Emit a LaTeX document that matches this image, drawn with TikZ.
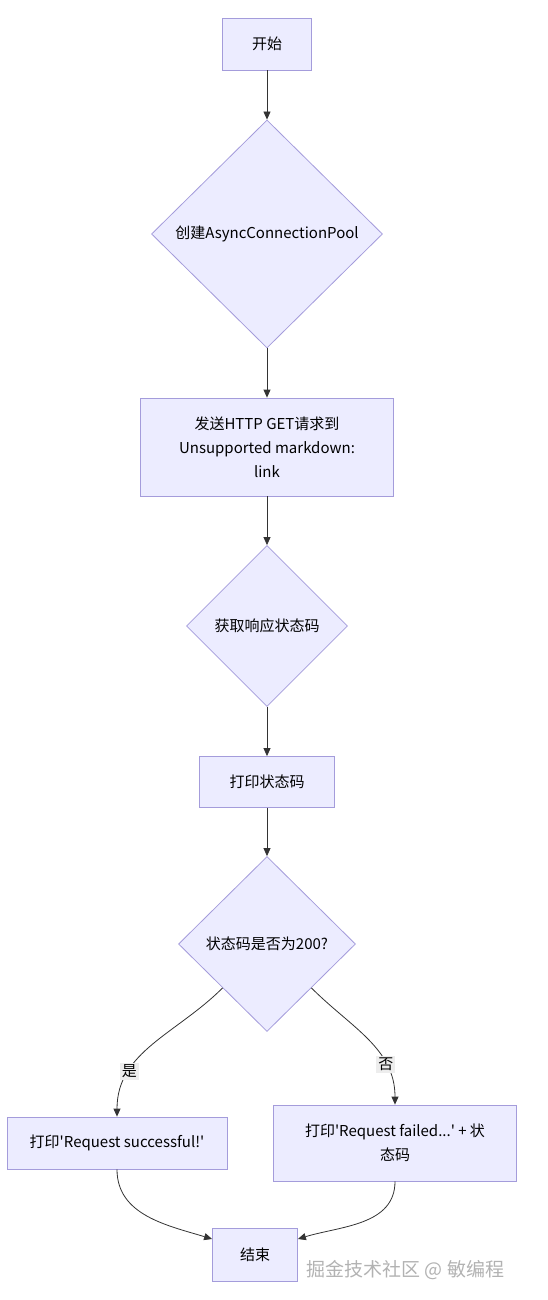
\documentclass[tikz,border=0pt]{standalone}
\usepackage{fontspec}
\setmainfont{Noto Sans CJK SC}
\usetikzlibrary{shapes.geometric,arrows.meta}
\definecolor{nodefill}{HTML}{ECECFF}
\definecolor{nodeline}{HTML}{A49CDB}
\definecolor{edgeline}{HTML}{333333}
\tikzset{
  box/.style={draw=nodeline, fill=nodefill, line width=0.8pt, inner sep=0pt,
    align=center, font=\fontsize{15}{24}\selectfont},
  decision/.style={diamond, aspect=1, draw=nodeline, fill=nodefill, line width=0.8pt,
    inner sep=0pt, align=center, font=\fontsize{15}{24}\selectfont},
  arr/.style={draw=edgeline, line width=0.8pt, -{Triangle[length=8pt,width=7pt]}},
  lbl/.style={fill=gray!14, inner sep=2pt, font=\fontsize{15}{18}\selectfont}
}
\begin{document}
\begin{tikzpicture}[x=1pt,y=1pt]
			\useasboundingbox (0,0) rectangle (547,-1300);
			% nodes
			\node[box, minimum width=89pt, minimum height=52pt] (start) at (267,-44) {开始};
			\node[decision, minimum width=231pt, minimum height=228pt] (pool) at (267,-234) {创建AsyncConnectionPool};
			\node[box, minimum width=253pt, minimum height=98pt] (request) at (267,-447) {发送HTTP GET请求到\\Unsupported markdown:\\link};
			\node[decision, minimum width=161pt, minimum height=161pt] (status) at (267,-626) {获取响应状态码};
			\node[box, minimum width=135pt, minimum height=51pt] (print) at (267,-782) {打印状态码};
			\node[decision, minimum width=177pt, minimum height=175pt] (check) at (267,-944) {状态码是否为200?};
			\node[box, minimum width=220pt, minimum height=52pt] (success) at (117,-1143) {打印\textquotesingle Request successful!\textquotesingle};
			\node[box, minimum width=243pt, minimum height=76pt] (failed) at (395,-1143) {打印\textquotesingle Request failed...\textquotesingle\ + 状\\态码};
			\node[box, minimum width=85pt, minimum height=53pt] (finish) at (255,-1255) {结束};
			% edges
			\draw[arr] (start) -- (pool);
			\draw[arr] (pool) -- (request);
			\draw[arr] (request) -- (status);
			\draw[arr] (status) -- (print);
			\draw[arr] (print) -- (check);
			\draw[arr] (check.south west) to[out=225, in=90] node[lbl, pos=0.72] {是} (success.north);
			\draw[arr] (check.south east) to[out=-45, in=90] node[lbl, pos=0.72] {否} (failed.north);
			\draw[arr] (success.south) to[out=-90, in=163] ([yshift=16pt]finish.west);
			\draw[arr] (failed.south) to[out=-90, in=17] ([yshift=16pt]finish.east);
			% watermark
			\node[text=gray!60, font=\fontsize{19}{19}\selectfont, anchor=west] (mark) at (303,-1270) {掘金技术社区 @ 敏编程};
		\end{tikzpicture}
\end{document}
